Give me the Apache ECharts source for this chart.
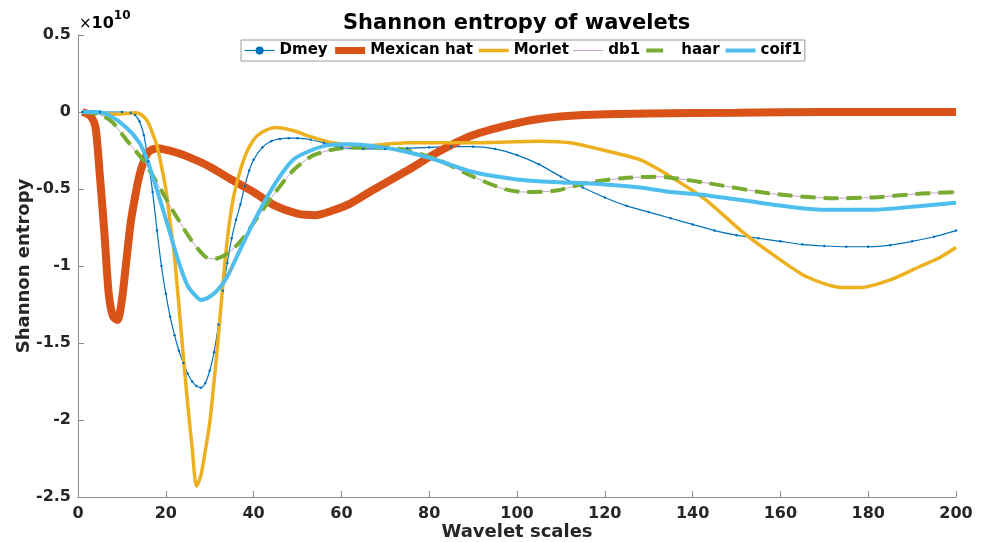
<!DOCTYPE html>
<html>
<head>
<meta charset="utf-8">
<script src="https://cdn.jsdelivr.net/npm/echarts@6/dist/echarts.min.js"></script>
<style>
  html, body { margin: 0; padding: 0; background: #fff; }
  #chart { width: 989px; height: 542px; }
</style>
</head>
<body>
<div id="chart"></div>
<script>
// values are in units of 1e10 (the axis carries the x10^10 multiplier)
const dmeyX = [1, 5, 10, 12, 13, 14, 15, 16, 17, 18, 19, 20, 21, 22, 23, 24, 25, 26, 27, 28, 29, 30, 31, 32, 33, 34, 35, 36, 37, 38, 39, 40, 42, 44, 46, 48, 50, 53, 56, 60, 65, 70, 75, 80, 85, 90, 95, 100, 105, 110, 115, 120, 125, 130, 135, 140, 145, 150, 155, 160, 165, 170, 175, 180, 185, 190, 195, 200];
const dmeyY = [0, 0, 0, -0.005, -0.02, -0.06, -0.15, -0.32, -0.52, -0.77, -1.0, -1.18, -1.33, -1.45, -1.55, -1.63, -1.7, -1.75, -1.78, -1.79, -1.76, -1.68, -1.56, -1.38, -1.16, -0.98, -0.82, -0.7, -0.6, -0.48, -0.38, -0.31, -0.23, -0.19, -0.175, -0.17, -0.17, -0.18, -0.2, -0.23, -0.24, -0.24, -0.235, -0.23, -0.225, -0.225, -0.24, -0.28, -0.34, -0.42, -0.49, -0.555, -0.61, -0.65, -0.69, -0.73, -0.77, -0.8, -0.82, -0.84, -0.86, -0.87, -0.875, -0.875, -0.865, -0.84, -0.81, -0.77];

const mexX = [1, 2, 3, 4, 5, 6, 7, 8, 9, 10, 11, 12, 13, 14, 15, 16, 18, 20, 22, 25, 30, 35, 40, 45, 50, 54, 58, 62, 67, 75, 82, 90, 98, 105, 115, 130, 150, 170, 200];
const mexY = [0, -0.01, -0.03, -0.1, -0.42, -0.78, -1.18, -1.33, -1.35, -1.22, -0.97, -0.72, -0.55, -0.41, -0.32, -0.26, -0.235, -0.245, -0.26, -0.29, -0.355, -0.44, -0.52, -0.61, -0.66, -0.67, -0.64, -0.595, -0.51, -0.38, -0.26, -0.15, -0.085, -0.045, -0.02, -0.01, -0.005, 0, 0];

const morletX = [1, 4, 8, 11, 13, 14, 15, 16, 17, 18, 19, 20, 21, 22, 24, 25, 26, 27, 28, 29, 30, 31, 32, 33, 34, 35, 36, 38, 40, 42, 45, 49, 53, 58, 65, 75, 90, 105, 112, 120, 128, 135, 143, 151, 158, 166, 174, 178, 185, 192, 196, 200];
const morletY = [0, -0.005, -0.015, -0.01, -0.005, -0.01, -0.03, -0.07, -0.14, -0.22, -0.35, -0.5, -0.72, -0.94, -1.59, -1.9, -2.18, -2.43, -2.36, -2.2, -2.02, -1.75, -1.45, -1.12, -0.83, -0.62, -0.48, -0.29, -0.18, -0.13, -0.1, -0.12, -0.16, -0.2, -0.22, -0.2, -0.2, -0.19, -0.2, -0.25, -0.31, -0.42, -0.57, -0.77, -0.92, -1.07, -1.14, -1.14, -1.09, -1.0, -0.95, -0.88];

// db1 and haar are the same wavelet
const haarX = [1, 4, 6, 8, 11, 15, 19, 22, 26, 29, 31, 34, 37, 41, 45, 49, 53, 57, 62, 71, 75, 82, 90, 97, 102, 109, 116, 124, 132, 143, 158, 172, 181, 192, 200];
const haarY = [0, -0.01, -0.03, -0.07, -0.18, -0.32, -0.51, -0.66, -0.84, -0.94, -0.955, -0.92, -0.84, -0.68, -0.52, -0.38, -0.29, -0.25, -0.23, -0.23, -0.25, -0.31, -0.42, -0.5, -0.52, -0.51, -0.46, -0.43, -0.42, -0.46, -0.53, -0.56, -0.555, -0.53, -0.52];

const coifX = [1, 4, 7, 11, 14, 16, 19, 21, 23, 25, 27, 28, 30, 32, 34, 36, 38, 41, 45, 49, 53, 57, 62, 67, 75, 82, 90, 98, 105, 113, 120, 128, 135, 143, 158, 170, 181, 192, 200];
const coifY = [0, 0, -0.02, -0.1, -0.2, -0.33, -0.6, -0.79, -0.98, -1.13, -1.2, -1.22, -1.2, -1.15, -1.07, -0.95, -0.83, -0.66, -0.46, -0.31, -0.25, -0.215, -0.21, -0.22, -0.26, -0.315, -0.39, -0.43, -0.45, -0.46, -0.47, -0.49, -0.52, -0.54, -0.6, -0.635, -0.635, -0.61, -0.59];

const yTicks = [0.5, 0, -0.5, -1, -1.5, -2, -2.5];

function zip(xs, ys) {
  return xs.map((x, i) => [x, ys[i]]);
}

const font = 'DejaVu Sans';
const hidden = { opacity: 0 };
const chart = echarts.init(document.getElementById('chart'));

chart.setOption({
  animation: false,
  title: {
    text: 'Shannon entropy of wavelets',
    left: 338,
    top: 8,
    textStyle: { fontFamily: font, fontWeight: 'bold', fontSize: 21, color: '#000' }
  },
  legend: {
    top: 40,
    left: 241,
    itemWidth: 30,
    itemHeight: 10,
    itemGap: 4,
    padding: [3, 3, 3, 3],
    borderColor: '#9a9a9a',
    borderWidth: 1,
    textStyle: { fontFamily: font, fontWeight: 'bold', fontSize: 15, color: '#000' },
    data: [
      { name: 'Dmey', lineStyle: { width: 1.2 } },
      { name: 'Mexican hat', itemStyle: hidden, lineStyle: { width: 7, cap: 'butt' } },
      { name: 'Morlet', itemStyle: hidden, lineStyle: { width: 3.5 } },
      { name: 'db1', itemStyle: hidden, lineStyle: { width: 1 } },
      { name: 'haar', itemStyle: hidden, lineStyle: { width: 4, type: [17, 13] } },
      { name: 'coif1', itemStyle: hidden, lineStyle: { width: 4 } }
    ]
  },
  grid: { left: 78, right: 33, top: 35, bottom: 45, outerBoundsMode: 'none', containLabel: false },
  xAxis: {
    type: 'value',
    min: 0,
    max: 200,
    interval: 20,
    name: 'Wavelet scales',
    nameLocation: 'middle',
    nameGap: 26,
    nameMoveOverlap: false,
    nameTextStyle: { fontFamily: font, fontWeight: 'bold', fontSize: 18, color: '#262626' },
    axisLine: { onZero: false, lineStyle: { color: '#8c8c8c', width: 1 } },
    axisTick: { inside: true, length: 6, lineStyle: { color: '#8c8c8c' } },
    axisLabel: { fontFamily: font, fontWeight: 'bold', fontSize: 16, color: '#262626', margin: 9 },
    splitLine: { show: false }
  },
  yAxis: {
    type: 'value',
    min: -2.5,
    max: 0.5,
    interval: 0.5,
    name: 'Shannon entropy',
    nameLocation: 'middle',
    nameGap: 45,
    nameMoveOverlap: false,
    nameTextStyle: { fontFamily: font, fontWeight: 'bold', fontSize: 18, color: '#262626' },
    axisLine: { show: true, onZero: false, lineStyle: { color: '#8c8c8c', width: 1 } },
    axisTick: { show: true, inside: true, length: 6, lineStyle: { color: '#8c8c8c' } },
    axisLabel: {
      fontFamily: font, fontWeight: 'bold', fontSize: 16, color: '#262626', margin: 7,
      formatter: v => yTicks.includes(v) ? String(v) : ''
    },
    splitLine: { show: false }
  },
  graphic: [{
    type: 'text',
    left: 79,
    top: 10,
    style: {
      text: '{x|×}{b|10}{s|10}',
      rich: {
        x: { fontFamily: font, fontSize: 15, color: '#262626', verticalAlign: 'bottom' },
        b: { fontFamily: font, fontWeight: 'bold', fontSize: 16, color: '#262626', verticalAlign: 'bottom' },
        s: { fontFamily: font, fontWeight: 'bold', fontSize: 12, color: '#262626', verticalAlign: 'top', padding: [0, 0, 10, 0] }
      }
    }
  }],
  series: [
    {
      name: 'Dmey', type: 'line', data: zip(dmeyX, dmeyY), smooth: 0.25,
      symbol: 'circle', symbolSize: 2.5, showAllSymbol: true,
      itemStyle: { color: '#0072BD' }, lineStyle: { color: '#0072BD', width: 1.2 }
    },
    {
      name: 'Mexican hat', type: 'line', data: zip(mexX, mexY), smooth: 0.25, symbol: 'none',
      itemStyle: { color: '#D95319' }, lineStyle: { color: '#D95319', width: 8 }
    },
    {
      name: 'Morlet', type: 'line', data: zip(morletX, morletY), smooth: 0.25, symbol: 'none',
      itemStyle: { color: '#EDB120' }, lineStyle: { color: '#EDB120', width: 3.5 }
    },
    {
      name: 'db1', type: 'line', data: zip(haarX, haarY), smooth: 0.25, symbol: 'none',
      itemStyle: { color: '#c79fd3' }, lineStyle: { color: '#c79fd3', width: 1 }
    },
    {
      name: 'haar', type: 'line', data: zip(haarX, haarY), smooth: 0.25, symbol: 'none',
      itemStyle: { color: '#77AC30' }, lineStyle: { color: '#77AC30', width: 4, type: [15, 8] }
    },
    {
      name: 'coif1', type: 'line', data: zip(coifX, coifY), smooth: 0.25, symbol: 'none',
      itemStyle: { color: '#4DBEEE' }, lineStyle: { color: '#4DBEEE', width: 4 }
    }
  ]
});
</script>
</body>
</html>
